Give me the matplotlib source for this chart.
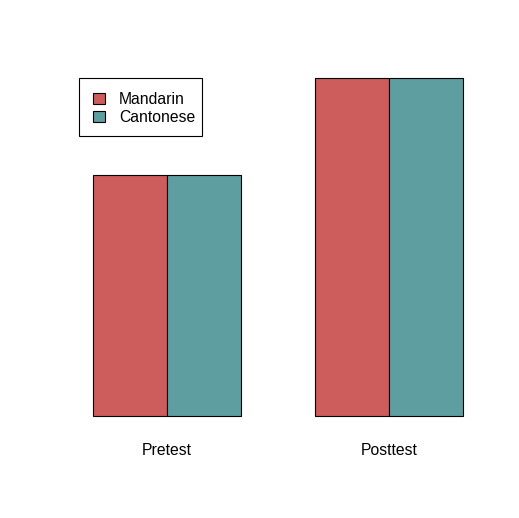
import matplotlib.pyplot as plt
from matplotlib.patches import Rectangle

groups = ["Pretest", "Posttest"]
series = ["Mandarin", "Cantonese"]
mandarin = [2.41, 3.38]
cantonese = [2.41, 3.38]
colors = ["#CD5C5C", "#5F9EA0"]

W, H = 519, 518
plt.rcParams['font.family'] = ['Liberation Sans', 'DejaVu Sans']
fig = plt.figure(figsize=(W / 100, H / 100), dpi=100)
ax = fig.add_axes([0, 0, 1, 1])
ax.axis('off')

# bar unit = 74 px, value unit = 100 px
ax.set_xlim(-93 / 74, (W - 93) / 74)
ax.set_ylim(-(H - 416) / 100, 416 / 100)

for i, g in enumerate(groups):
    left = i * 3
    for j, vals in enumerate([mandarin, cantonese]):
        ax.bar(left + j, vals[i], width=1, align='edge', color=colors[j],
               edgecolor='black', linewidth=0.8)
    ax.text(left + 1, -0.345, g, ha='center', va='center', fontsize=11.3)

# legend box, in pixel coordinates
def px(x, y):
    return x / W, 1 - y / H

lx0, ly0 = px(78.5, 136)
lx1, ly1 = px(202, 78.5)
fig.patches.append(Rectangle((lx0, ly0), lx1 - lx0, ly1 - ly0, transform=fig.transFigure,
                             facecolor='white', edgecolor='black', linewidth=0.8))
for j, name in enumerate(series):
    cy = 98 + j * 18.5
    sx, sy = px(93, cy + 5.5)
    fig.patches.append(Rectangle((sx, sy), 11.5 / W, 11 / H, transform=fig.transFigure,
                                 facecolor=colors[j], edgecolor='black', linewidth=0.8))
    tx, ty = px(119, cy + 1.5)
    fig.text(tx, ty, name, ha='left', va='center', fontsize=11.3)

fig.savefig('out.png', dpi=100)
